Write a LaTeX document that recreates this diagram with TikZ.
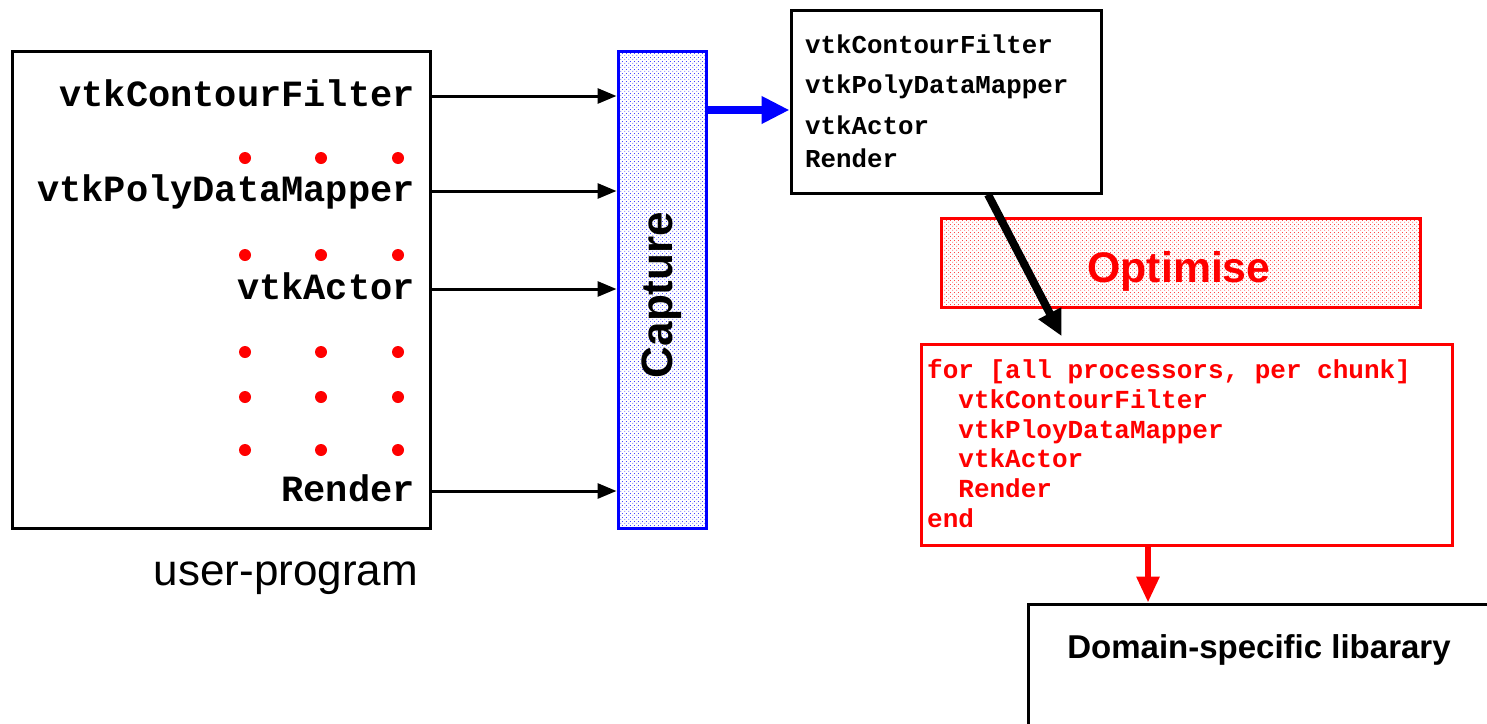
\documentclass[tikz,border=0pt]{standalone}
\usepackage{fontspec}
\setmainfont{Liberation Sans}
\newfontfamily\cour{Liberation Mono}
\usepackage{graphicx}
\usetikzlibrary{arrows.meta,patterns.meta}
\tikzdeclarepattern{
  name=mydots, type=uncolored,
  bounding box={(0pt,0pt) and (4pt,4pt)},
  tile size={(4pt,4pt)},
  code={
    \pgfpathcircle{\pgfpoint{1pt}{1pt}}{0.55pt}
    \pgfpathcircle{\pgfpoint{3pt}{3pt}}{0.55pt}
    \pgfusepath{fill}
  }
}
\tikzset{
  box/.style={draw, line width=3pt, rectangle, inner sep=0pt},
  ctxt/.style={inner sep=0pt, font=\cour\bfseries\fontsize{37}{40}\selectfont},
  stxt/.style={inner sep=0pt, font=\cour\bfseries\fontsize{25.8}{28}\selectfont},
  rtxt/.style={inner sep=0pt, text=red, font=\cour\bfseries\fontsize{26}{28}\selectfont},
  thinarr/.style={line width=3pt, -{Triangle[width=15pt,length=19pt]}},
  rdot/.style={fill=red, draw=none}
}
\begin{document}
\begin{tikzpicture}[x=1pt,y=-1pt]
\clip (0,0) rectangle (1487,723);
\fill[white] (0,0) rectangle (1487,723);
% left box
\node[box, minimum width=418pt, minimum height=477pt] (lbox) at (221,289.5) {};
\node[ctxt, anchor=base east] (lt1) at (415,106) {vtkContourFilter};
\node[ctxt, anchor=base east] (lt2) at (415,201) {vtkPolyDataMapper};
\node[ctxt, anchor=base east] (lt3) at (415,299) {vtkActor};
\node[ctxt, anchor=base east] (lt4) at (415,501) {Render};
\foreach \yy in {158,255,352,397,450}{
  \foreach \xx in {245,321,398}{
    \fill[rdot] (\xx,\yy) circle (6pt);
  }
}
\node[inner sep=0pt, anchor=base, font=\fontsize{44}{48}\selectfont] (up) at (286,585) {user-program};
% capture
\node[box, draw=blue, pattern={mydots}, pattern color=blue, minimum width=88pt, minimum height=477pt] (cap) at (662,289.5) {};
\node[inner sep=0pt] (capt) at (662,295) {\rotatebox{90}{\fontsize{44}{44}\selectfont\bfseries Capture}};
\foreach \t in {lt1,lt2,lt3,lt4}{
  \draw[thinarr] ([yshift=10pt]lbox.east |- \t.base) -- ([yshift=10pt]cap.west |- \t.base);
}
% top box
\node[box, minimum width=310pt, minimum height=183pt] (tbox) at (946,101.5) {};
\node[stxt, anchor=base west] (tt1) at (805,53) {vtkContourFilter};
\node[stxt, anchor=base west] (tt2) at (805,93) {vtkPolyDataMapper};
\node[stxt, anchor=base west] (tt3) at (805,134) {vtkActor};
\node[stxt, anchor=base west] (tt4) at (805,167) {Render};
\coordinate (bl) at (706,110);
\draw[blue, line width=8pt, -{Triangle[width=26pt,length=28pt]}] (bl) -- (tbox.west |- bl);
% optimise
\node[box, draw=red, pattern={mydots}, pattern color=red, minimum width=479pt, minimum height=89pt] (opt) at (1180.5,262.5) {};
\node[inner sep=0pt, anchor=base, text=red, font=\bfseries\fontsize{42.8}{44}\selectfont] (optt) at (1179,282) {Optimise};
% for box
\node[box, draw=red, minimum width=531pt, minimum height=201pt] (fbox) at (1186.5,444.5) {};
\node[rtxt, anchor=base west] (f1) at (927,378) {for [all processors, per chunk]};
\node[rtxt, anchor=base west] (f2) at (927,408) {\hphantom{xx}vtkContourFilter};
\node[rtxt, anchor=base west] (f3) at (927,438) {\hphantom{xx}vtkPloyDataMapper};
\node[rtxt, anchor=base west] (f4) at (927,467) {\hphantom{xx}vtkActor};
\node[rtxt, anchor=base west] (f5) at (927,497) {\hphantom{xx}Render};
\node[rtxt, anchor=base west] (f6) at (927,527) {end};
\draw[line width=8pt, shorten >=7pt, -{Triangle[width=24pt,length=26pt]}] (tbox.south -| 988,0) -- (fbox.north -| 1065,0);
% domain box
\node[box, minimum width=492pt, minimum height=156pt] (dbox) at (1274,682) {};
\node[inner sep=0pt, anchor=base, font=\bfseries\fontsize{33}{36}\selectfont] (dt) at (1259,658) {Domain-specific libarary};
\draw[red, line width=6pt, -{Triangle[width=22pt,length=26pt]}] (fbox.south -| 1148,0) -- (dbox.north -| 1148,0);
\end{tikzpicture}
\end{document}
